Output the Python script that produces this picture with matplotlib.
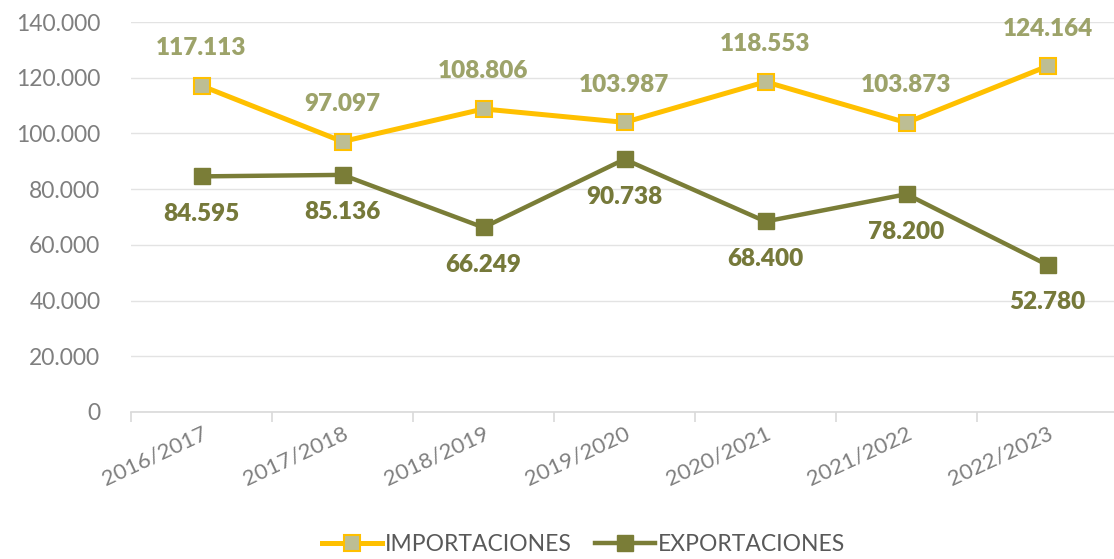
import matplotlib
matplotlib.use("Agg")
import matplotlib.pyplot as plt
from matplotlib.ticker import FuncFormatter, FixedLocator

categories = ["2016/2017", "2017/2018", "2018/2019", "2019/2020", "2020/2021", "2021/2022", "2022/2023"]
importaciones = [117113, 97097, 108806, 103987, 118553, 103873, 124164]
exportaciones = [84595, 85136, 66249, 90738, 68400, 78200, 52780]
y_ticks = [0, 20000, 40000, 60000, 80000, 100000, 120000, 140000]

plt.rcParams['font.family'] = ['Lato', 'DejaVu Sans']

fig = plt.figure(figsize=(11.14, 5.59), dpi=100)
ax = fig.add_axes([0.1176, 0.263, 0.886, 0.6975])

x = list(range(len(categories)))
imp_col = '#FFC000'
exp_col = '#7A7D37'

ax.plot(x, importaciones, color=imp_col, lw=3.6, marker='s', markersize=11,
        markerfacecolor='#BDBE94', markeredgecolor=imp_col, markeredgewidth=1.5,
        label='IMPORTACIONES', zorder=3)
ax.plot(x, exportaciones, color=exp_col, lw=3.2, marker='s', markersize=11,
        markerfacecolor=exp_col, markeredgecolor=exp_col,
        label='EXPORTACIONES', zorder=3)

def fmt(v):
    return f"{v:,.0f}".replace(",", ".")

for xi, v in zip(x, importaciones):
    ax.annotate(fmt(v), (xi, v), xytext=(0, 27), textcoords='offset points',
                ha='center', va='center', fontsize=17.5, fontweight='heavy', color='#9DA36A')
for xi, v in zip(x, exportaciones):
    ax.annotate(fmt(v), (xi, v), xytext=(0, -27), textcoords='offset points',
                ha='center', va='center', fontsize=17.5, fontweight='heavy', color='#76793A')

ax.set_xlim(-0.5, len(categories) - 0.5)
ax.set_ylim(0, 140000)
ax.yaxis.set_major_locator(FixedLocator(y_ticks))
ax.yaxis.set_major_formatter(FuncFormatter(lambda v, p: fmt(v)))
ax.grid(axis='y', color='#E3E3E3', lw=1)
ax.set_axisbelow(True)

for s in ['top', 'right', 'left']:
    ax.spines[s].set_visible(False)
ax.spines['bottom'].set_color('#D9D9D9')
ax.spines['bottom'].set_linewidth(1.2)

ax.set_xticks([i - 0.5 for i in range(len(categories) + 1)], minor=False)
ax.set_xticklabels([])
ax.tick_params(axis='x', which='major', length=7, color='#D9D9D9', width=1.2)
ax.set_xticks(x, minor=True)
ax.set_xticklabels(categories, minor=True, rotation=25, ha='right', va='top',
                   rotation_mode='anchor', fontsize=16, color='#7F7F7F')
ax.tick_params(axis='x', which='minor', length=0, pad=8)
ax.tick_params(axis='y', length=0, labelsize=16.5, labelcolor='#7F7F7F', pad=22)

leg = fig.legend(loc='lower center', bbox_to_anchor=(0.524, -0.03), ncol=2, frameon=False,
                 fontsize=16.5, handlelength=2.6, columnspacing=1.0, handletextpad=0.15)
for t in leg.get_texts():
    t.set_color('#595959')

fig.savefig('out.png', dpi=100)
